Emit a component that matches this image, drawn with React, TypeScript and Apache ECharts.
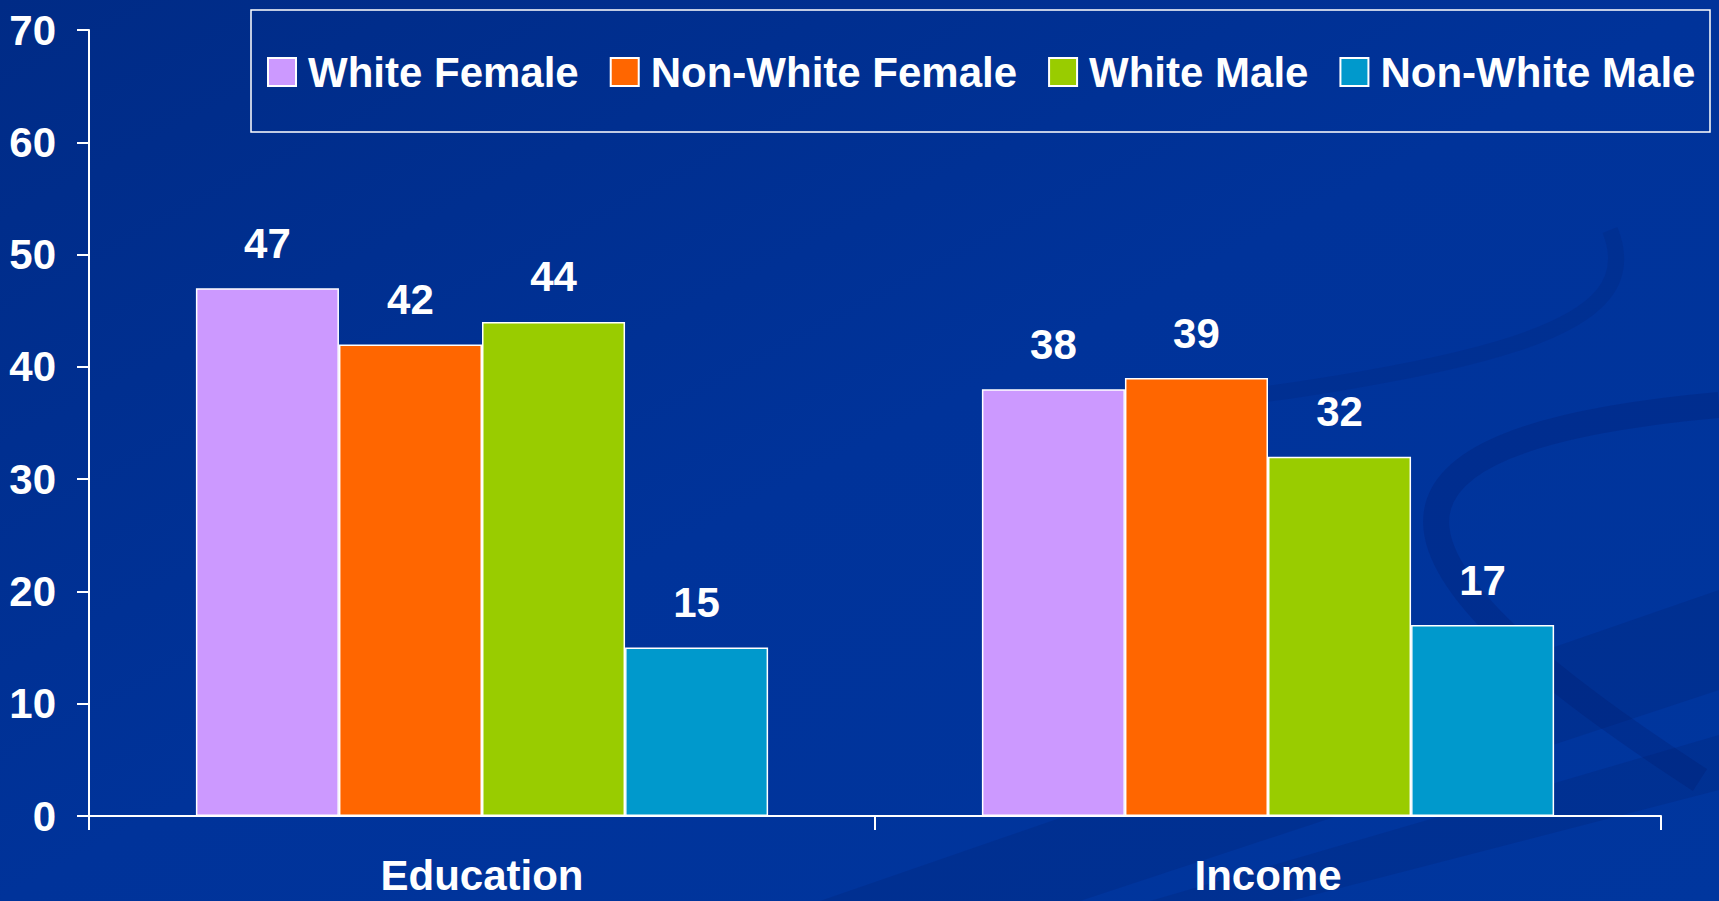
import React, { useEffect, useRef } from "react";
import * as echarts from "echarts";

const categories = ["Education", "Income"];
const seriesNames = ["White Female", "Non-White Female", "White Male", "Non-White Male"];
const whiteFemale = [47, 38];
const nonWhiteFemale = [42, 39];
const whiteMale = [44, 32];
const nonWhiteMale = [15, 17];
const seriesValues = [whiteFemale, nonWhiteFemale, whiteMale, nonWhiteMale];
const seriesColors = ["#CC99FF", "#FF6600", "#99CC00", "#0099CC"];
const yTicks = [0, 10, 20, 30, 40, 50, 60, 70];

const FONT = "'Liberation Sans', Arial, sans-serif";

export default function App() {
  const ref = useRef<HTMLDivElement>(null);
  useEffect(() => {
    document.body.style.margin = "0";
    const chart = echarts.init(ref.current!, null, { renderer: "svg" });
    chart.setOption({
      animation: false,
      backgroundColor: {
        type: "linear",
        x: 0,
        y: 0,
        x2: 1,
        y2: 1,
        colorStops: [
          { offset: 0, color: "#002B86" },
          { offset: 0.5, color: "#00339A" },
          { offset: 1, color: "#00369E" },
        ],
      },
      graphic: [
        {
          type: "polygon",
          z: -10,
          silent: true,
          shape: { points: [[820, 901], [1080, 901], [1719, 690], [1719, 590]] },
          style: { fill: "rgba(0,25,100,0.18)" },
        },
        {
          type: "polygon",
          z: -10,
          silent: true,
          shape: { points: [[1150, 901], [1290, 901], [1719, 790], [1719, 735]] },
          style: { fill: "rgba(0,25,100,0.18)" },
        },
        {
          type: "bezierCurve",
          z: -10,
          silent: true,
          shape: { x1: 1719, y1: 405, cpx1: 1330, cpy1: 440, cpx2: 1360, cpy2: 560, x2: 1700, y2: 780 },
          style: { stroke: "rgba(0,25,100,0.22)", lineWidth: 26, fill: "none" },
        },
        {
          type: "bezierCurve",
          z: -10,
          silent: true,
          shape: { x1: 1610, y1: 230, cpx1: 1650, cpy1: 330, cpx2: 1500, cpy2: 370, x2: 1060, y2: 420 },
          style: { stroke: "rgba(0,25,100,0.15)", lineWidth: 16, fill: "none" },
        },
        {
          type: "rect",
          z: 5,
          silent: true,
          shape: { x: 251, y: 10, width: 1459, height: 122 },
          style: { fill: "none", stroke: "#FFFFFF", lineWidth: 1.5 },
        },
      ],
      legend: {
        data: seriesNames,
        icon: "rect",
        left: 267,
        top: 51,
        itemWidth: 28,
        itemHeight: 28,
        itemGap: 31,
        selectedMode: false,
        padding: 0,
        textStyle: {
          color: "#FFFFFF",
          fontSize: 42,
          fontWeight: "bold",
          fontFamily: FONT,
          padding: [0, 0, 0, 7],
        },
      },
      grid: { left: 89, right: 58, top: 30, bottom: 85, containLabel: false },
      xAxis: {
        type: "category",
        data: categories,
        axisLine: { show: true, lineStyle: { color: "#FFFFFF", width: 2 } },
        axisTick: { show: true, length: 14, lineStyle: { color: "#FFFFFF", width: 2 } },
        axisLabel: {
          color: "#FFFFFF",
          fontSize: 42,
          lineHeight: 38,
          fontWeight: "bold",
          fontFamily: FONT,
          margin: 40,
        },
      },
      yAxis: {
        type: "value",
        min: 0,
        max: 70,
        interval: 10,
        splitLine: { show: false },
        axisLine: { show: true, lineStyle: { color: "#FFFFFF", width: 2 } },
        axisTick: { show: true, inside: false, length: 12, lineStyle: { color: "#FFFFFF", width: 2 } },
        axisLabel: {
          color: "#FFFFFF",
          fontSize: 42,
          fontWeight: "bold",
          fontFamily: FONT,
          margin: 33,
          formatter: (v: number) => (yTicks.includes(v) ? String(v) : ""),
        },
      },
      series: seriesNames.map((name, i) => ({
        name,
        type: "bar",
        data: seriesValues[i],
        barGap: "0%",
        barCategoryGap: "27.2%",
        itemStyle: { color: seriesColors[i], borderColor: "#FFFFFF", borderWidth: 1.5 },
        label: {
          show: true,
          position: "top",
          distance: 24,
          color: "#FFFFFF",
          fontSize: 42,
          fontWeight: "bold",
          fontFamily: FONT,
        },
      })),
    });
    return () => chart.dispose();
  }, []);
  return <div ref={ref} style={{ width: 1719, height: 901 }} />;
}
